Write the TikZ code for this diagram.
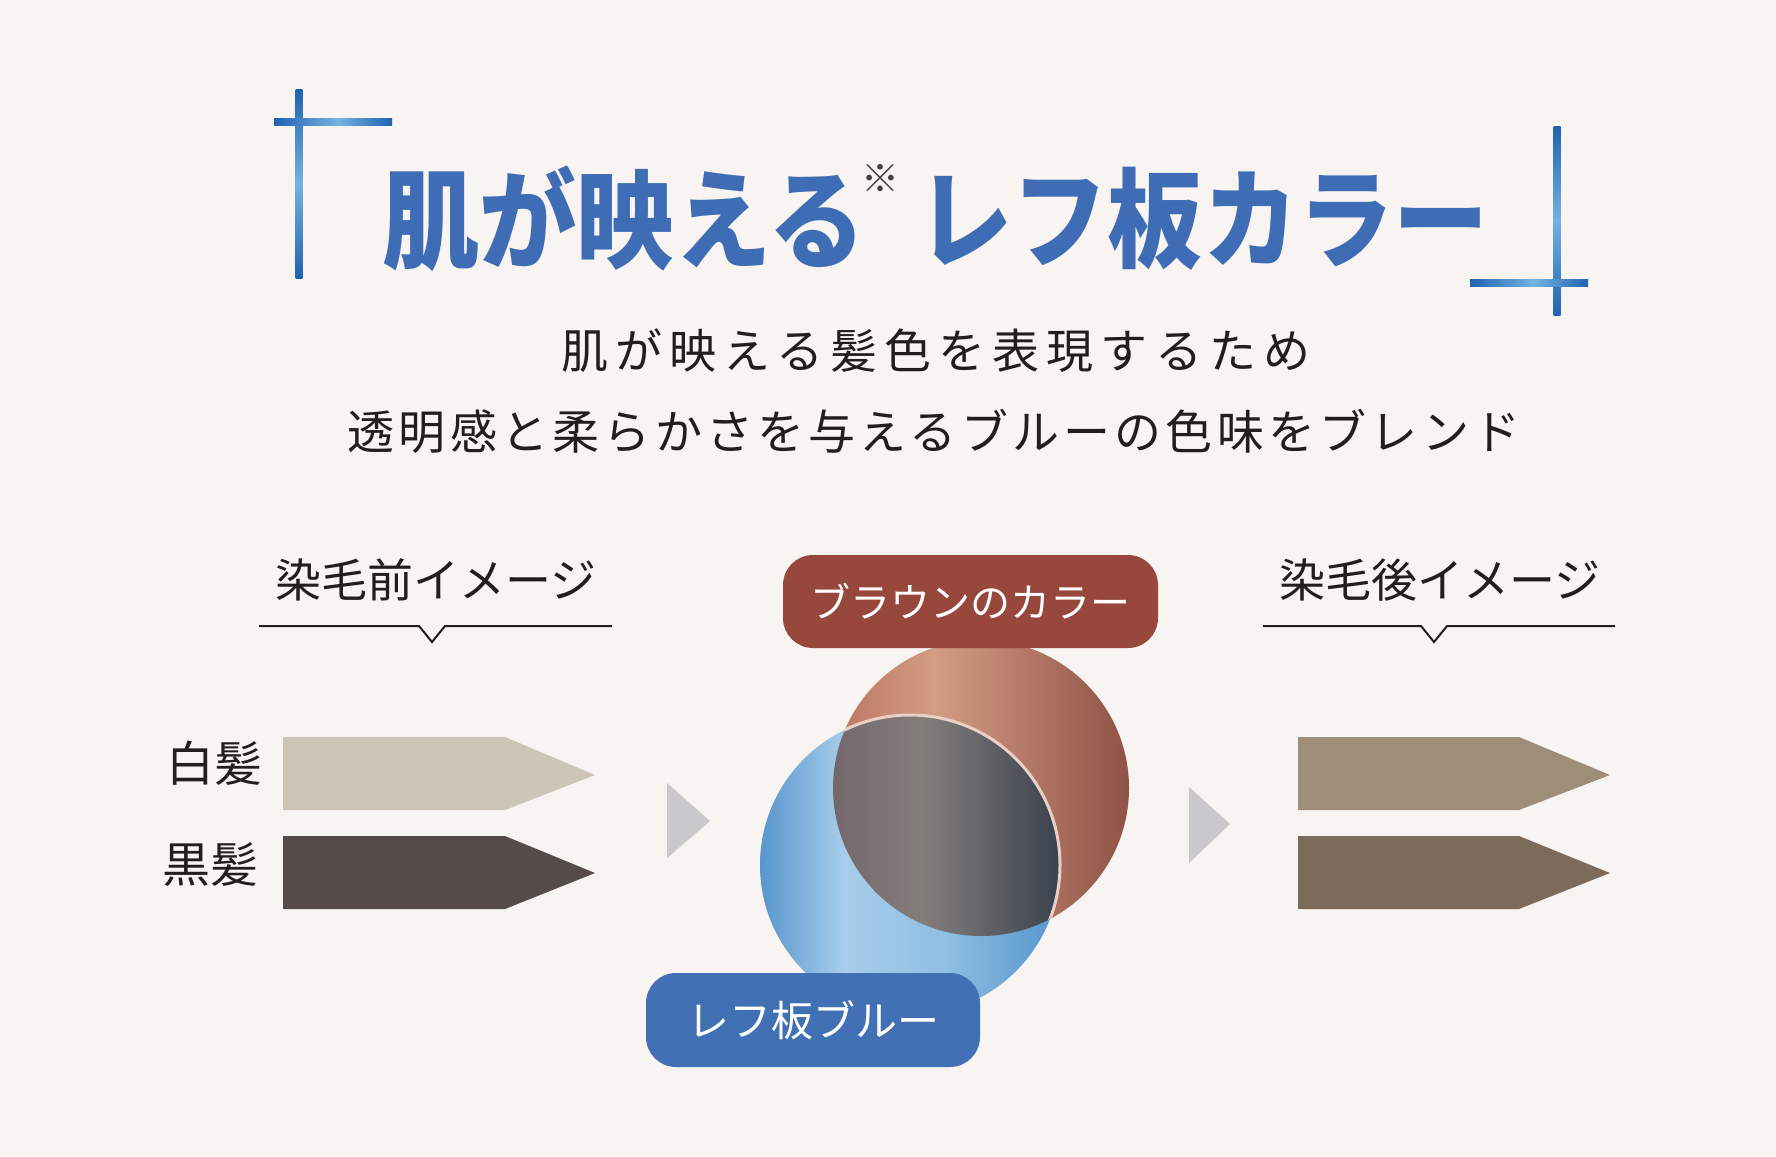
\documentclass[tikz,border=0pt]{standalone}
\usepackage{fontspec}
\usepackage{graphicx}
\newfontfamily\jp{Noto Sans CJK JP}
\newfontfamily\jpsp[LetterSpace=9]{Noto Sans CJK JP}
\newfontfamily\jpspw[LetterSpace=15]{Noto Sans CJK JP}
\definecolor{bg}{HTML}{F8F4F1}
\definecolor{ttlblue}{HTML}{3F6DB5}
\definecolor{inkc}{HTML}{231E1C}
\definecolor{brownlab}{HTML}{97473B}
\definecolor{bluelab}{HTML}{4170B5}
\definecolor{pen1}{HTML}{CDC6B8}
\definecolor{pen2}{HTML}{554B48}
\definecolor{pen3}{HTML}{9E8D79}
\definecolor{pen4}{HTML}{7C6A5A}
\definecolor{tric}{HTML}{C9C8CA}
\definecolor{brA}{HTML}{B97561}
\definecolor{brB}{HTML}{D49C83}
\definecolor{brC}{HTML}{8F5246}
\definecolor{blA}{HTML}{5896CE}
\definecolor{blB}{HTML}{A7CDEA}
\definecolor{blC}{HTML}{8FBFE3}
\definecolor{blD}{HTML}{5E9BD0}
\definecolor{dkA}{HTML}{73676A}
\definecolor{dkB}{HTML}{847E7B}
\definecolor{dkC}{HTML}{3A4250}
\definecolor{edgec}{HTML}{E9CFC4}
\definecolor{mkD}{HTML}{1F63AF}
\definecolor{mkL}{HTML}{74B2E2}
\pgfdeclarehorizontalshading{brownsh}{100bp}{color(0bp)=(brA); color(25bp)=(brA); color(42bp)=(brB); color(75bp)=(brC); color(100bp)=(brC)}
\pgfdeclarehorizontalshading{bluesh}{100bp}{color(0bp)=(blA); color(25bp)=(blA); color(39bp)=(blB); color(56bp)=(blC); color(72bp)=(blD); color(100bp)=(blD)}
\pgfdeclarehorizontalshading{darksh}{100bp}{color(0bp)=(dkA); color(37bp)=(dkA); color(52bp)=(dkB); color(75bp)=(dkC); color(100bp)=(dkC)}
\pgfdeclarehorizontalshading{markh}{100bp}{color(0bp)=(mkD); color(25bp)=(mkD); color(52bp)=(mkL); color(75bp)=(mkD); color(100bp)=(mkD)}
\pgfdeclareverticalshading{markv}{100bp}{color(0bp)=(mkD); color(25bp)=(mkD); color(50bp)=(mkL); color(75bp)=(mkD); color(100bp)=(mkD)}
\tikzset{
  ttl/.style={font={\jp\bfseries\fontsize{108}{108}\selectfont}, text=ttlblue, inner sep=0pt},
  subt/.style={font={\jpsp\fontsize{47}{47}\selectfont}, text=inkc, inner sep=0pt},
  subtw/.style={font={\jpspw\fontsize{47}{47}\selectfont}, text=inkc, inner sep=0pt},
  lab/.style={font={\jp\fontsize{46}{46}\selectfont}, text=inkc, inner sep=0pt},
  hairlab/.style={font={\jp\fontsize{48}{48}\selectfont}, text=inkc, inner sep=0pt},
  pill/.style={rounded corners=30pt, text=white, inner sep=0pt},
  uline/.style={draw=inkc, line width=2pt, line join=miter},
}
\begin{document}
\begin{tikzpicture}[x=1pt,y=-1pt]
\useasboundingbox (0,0) rectangle (1776,1156);
\fill[bg] (0,0) rectangle (1776,1156);

% corner marks
\shade[shading=markv] (295.5,89) rectangle (302.5,278);
\shade[shading=markh] (274,118.5) rectangle (392,125.5);
\shade[shading=markv] (1553.5,126) rectangle (1560.5,315);
\shade[shading=markh] (1470,279.5) rectangle (1588,286.5);

% title
\node[ttl] (t1) at (624,219) {\scalebox{0.9}[1]{肌が映える}};
\node[font={\jp\fontsize{38}{38}\selectfont}, text=inkc!85, inner sep=0pt] (ast) at (880,178) {※};
\node[ttl] (t2) at (1203,219) {\scalebox{0.88}[1]{レフ板カラー}};

% subtitle
\node[subtw] (s1) at (936,351) {肌が映える髪色を表現するため};
\node[subt] (s2) at (934,431) {透明感と柔らかさを与えるブルーの色味をブレンド};

% section headings
\node[lab] (before) at (436,580) {染毛前イメージ};
\node[lab] (after) at (1440,580) {染毛後イメージ};
\draw[uline] (259,626) -- (419,626) -- (432,642) -- (445,626) -- (612,626);
\draw[uline] (1263,626) -- (1421,626) -- (1434,642) -- (1447,626) -- (1615,626);

% hair labels
\node[hairlab] (white) at (214,763) {白髪};
\node[hairlab] (black) at (210,865) {黒髪};

% pencils before
\fill[pen1] (283,737) -- (505,737) -- (595,775) -- (505,810) -- (283,810) -- cycle;
\fill[pen2] (283,836) -- (505,836) -- (595,873) -- (505,909) -- (283,909) -- cycle;
% pencils after
\fill[pen3] (1298,737) -- (1519,737) -- (1610,775) -- (1519,810) -- (1298,810) -- cycle;
\fill[pen4] (1298,836) -- (1519,836) -- (1610,873) -- (1519,909) -- (1298,909) -- cycle;

% grey triangles
\fill[tric] (667,783) -- (710,821) -- (667,858) -- cycle;
\fill[tric] (1189,787) -- (1230,824) -- (1189,863) -- cycle;

% circles
\shade[shading=brownsh] (981,788) circle[radius=148];
\shade[shading=bluesh] (910,865) circle[radius=150];
\begin{scope}
  \clip (981,788) circle[radius=148];
  \shade[shading=darksh] (910,865) circle[radius=150];
  \draw[edgec, line width=3pt] (910,865) circle[radius=150];
\end{scope}

% labels
\node[pill, fill=brownlab, minimum width=375pt, minimum height=93pt,
      font={\jp\fontsize{40}{40}\selectfont}] (brown) at (970.5,601.5) {ブラウンのカラー};
\node[pill, fill=bluelab, minimum width=334pt, minimum height=94pt,
      font={\jp\fontsize{42}{42}\selectfont}] (blue) at (813,1020) {レフ板ブルー};
\end{tikzpicture}
\end{document}
